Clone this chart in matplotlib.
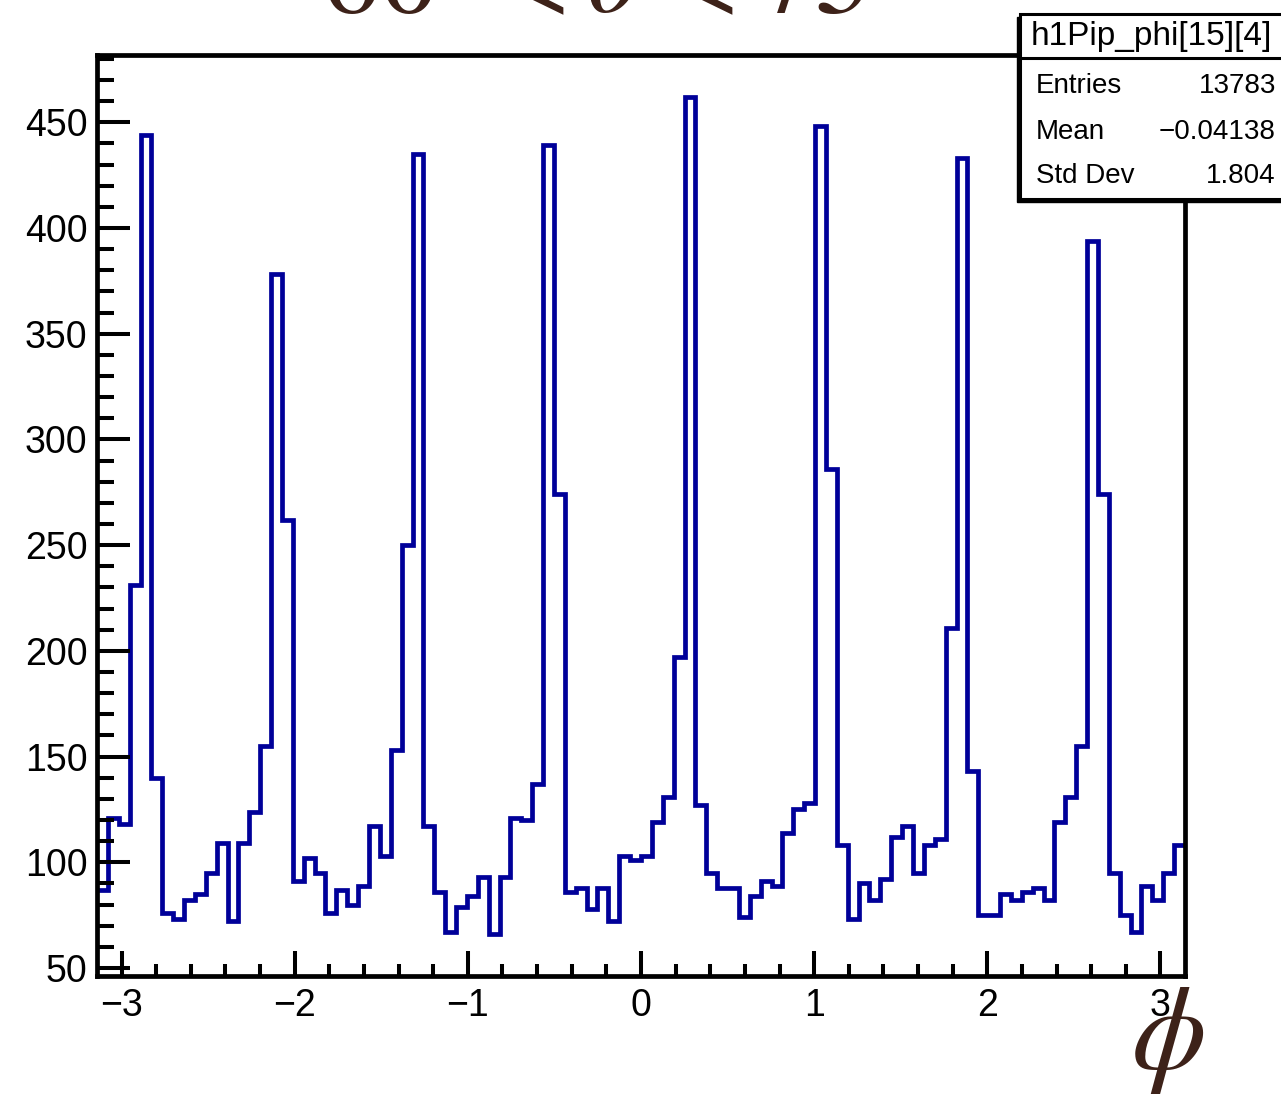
import numpy as np
import matplotlib
matplotlib.use("Agg")
import matplotlib.pyplot as plt
from matplotlib.patches import Rectangle
from matplotlib.ticker import MultipleLocator

# ---- histogram h1Pip_phi[15][4]: 100 bins in phi over [-pi, pi] ----
n_bins = 100
phi_lo, phi_hi = -np.pi, np.pi
counts = [
    87, 121, 118, 231, 444, 140, 76, 73, 82, 85,
    95, 109, 72, 109, 124, 155, 378, 262, 91, 102,
    95, 76, 87, 80, 89, 117, 103, 153, 250, 435,
    117, 86, 67, 79, 84, 93, 66, 93, 121, 120,
    137, 439, 274, 86, 88, 78, 88, 72, 103, 101,
    103, 119, 131, 197, 462, 127, 95, 88, 88, 74,
    84, 91, 89, 114, 125, 128, 448, 286, 108, 73,
    90, 82, 92, 112, 117, 95, 108, 111, 211, 433,
    143, 75, 75, 85, 82, 86, 88, 82, 119, 131,
    155, 394, 274, 95, 75, 67, 89, 82, 95, 108,
]
x_ticks = [-3, -2, -1, 0, 1, 2, 3]
x_tick_labels = ["\u22123", "\u22122", "\u22121", "0", "1", "2", "3"]
y_ticks = [50, 100, 150, 200, 250, 300, 350, 400, 450]

stats_title = "h1Pip_phi[15][4]"
stats_names = ["Entries", "Mean", "Std Dev"]
stats_values = ["13783", "\u22120.04138", "1.804"]

title_text = r"$60^{\circ} < \theta < 75^{\circ}$"
x_label = r"$\phi$"

W, H = 1281, 1102
plt.rcParams["font.family"] = ["Liberation Sans", "DejaVu Sans"]
plt.rcParams["mathtext.fontset"] = "stix"

fig = plt.figure(figsize=(W / 100, H / 100), dpi=100)


def fx(px):
    return px / W


def fy(py):
    return 1 - py / H


left, right, top, bottom = 97, 1185, 55, 976
ax = fig.add_axes([fx(left), fy(bottom), fx(right - left), (bottom - top) / H])

edges = np.linspace(phi_lo, phi_hi, n_bins + 1)
ax.stairs(counts, edges, baseline=None, color="#000099", linewidth=3.4)

# y range with 5% margins around min/max like ROOT
cmin, cmax = min(counts), max(counts)
margin = 0.05 * (cmax - cmin)
ax.set_ylim(cmin - margin, cmax + margin)
ax.set_xlim(phi_lo, phi_hi)

for sp in ax.spines.values():
    sp.set_linewidth(3.4)
    sp.set_color("black")

ax.set_xticks(x_ticks)
ax.set_xticklabels(x_tick_labels)
ax.set_yticks(y_ticks)
ax.xaxis.set_minor_locator(MultipleLocator(0.2))
ax.yaxis.set_minor_locator(MultipleLocator(10))
ax.tick_params(axis="both", which="both", direction="in", top=False, right=False,
               width=2.9, color="black", labelsize=27)
ax.tick_params(axis="x", which="major", length=18, pad=9)
ax.tick_params(axis="x", which="minor", length=8.5)
ax.tick_params(axis="y", which="major", length=23.5, pad=7)
ax.tick_params(axis="y", which="minor", length=12)

brown = "#3d2219"
# title (mostly above the top edge)
fig.text(fx(612), fy(12), title_text, fontsize=84, color=brown,
         ha="center", va="baseline")
# axis label
fig.text(fx(1168), fy(1040), x_label, fontsize=86, color=brown,
         ha="center", va="center")

# ---- statistics box ----
bx0, by0, bx1, by1 = 1020, 14, 1300, 199
shadow = Rectangle((fx(bx0 - 3), fy(by1 + 3)), fx(bx1 - bx0), (by1 - by0) / H,
                   transform=fig.transFigure, facecolor="black", edgecolor="black",
                   zorder=10)
box = Rectangle((fx(bx0), fy(by1)), fx(bx1 - bx0), (by1 - by0) / H,
                transform=fig.transFigure, facecolor="white", edgecolor="black",
                linewidth=2.2, zorder=11)
fig.add_artist(shadow)
fig.add_artist(box)
fig.add_artist(plt.Line2D([fx(bx0), fx(bx1)], [fy(58), fy(58)], transform=fig.transFigure,
                          color="black", linewidth=2.2, zorder=12))
fig.text(fx(1031), fy(37), stats_title, fontsize=24, ha="left", va="center", zorder=13)
row_y = [86, 132, 176]
for name, val, yy in zip(stats_names, stats_values, row_y):
    fig.text(fx(1036), fy(yy), name, fontsize=20, ha="left", va="center", zorder=13)
    fig.text(fx(1276), fy(yy), val, fontsize=20, ha="right", va="center", zorder=13)

fig.savefig("out.png", dpi=100)
